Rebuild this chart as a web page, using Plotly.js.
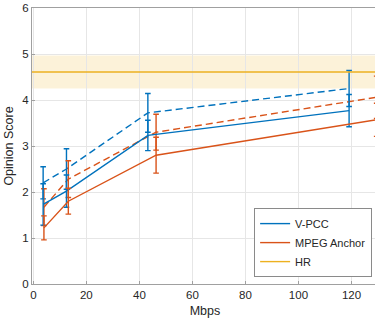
<!DOCTYPE html>
<html>
<head>
<meta charset="utf-8">
<script src="https://cdn.plot.ly/plotly-3.0.1.min.js"></script>
<style>
html,body{margin:0;padding:0;overflow:hidden;background:#fff;}
#chart{width:378px;height:320px;}
</style>
</head>
<body>
<div id="chart"></div>
<script>
// Data
const vpccX = [3.7, 12.5, 43.2, 119.1];
const vpccSolid = [1.73, 2.02, 3.23, 3.77];
const vpccSolidErr = [0.45, 0.35, 0.33, 0.35];
const vpccDashed = [2.20, 2.50, 3.72, 4.25];
const vpccDashedErr = [0.35, 0.44, 0.42, 0.39];

const mpegX = [4.0, 13.2, 46.3, 129.5];
const mpegSolid = [1.22, 1.80, 2.80, 3.57];
const mpegSolidErr = [0.26, 0.28, 0.39, 0.36];
const mpegDashed = [1.67, 2.28, 3.30, 4.06];
const mpegDashedErr = [0.40, 0.40, 0.39, 0.46];

const hrValue = 4.61;
const hrLow = 4.25;
const hrHigh = 4.97;

const xRange = [-0.5, 130];
const yRange = [0, 6];
const xTicks = [0, 20, 40, 60, 80, 100, 120];
const yTicks = [0, 1, 2, 3, 4, 5, 6];

const BLUE = '#0072BD';
const ORANGE = '#D95319';
const YELLOW = '#EDB120';

function errBar(arr, color) {
  return {type: 'data', array: arr, visible: true, color: color, thickness: 1.4, width: 2.8};
}

const traces = [
  {x: vpccX, y: vpccDashed, mode: 'lines', line: {color: BLUE, width: 1.4, dash: '7px,4px'},
   error_y: errBar(vpccDashedErr, BLUE), showlegend: false, hoverinfo: 'skip'},
  {x: mpegX, y: mpegDashed, mode: 'lines', line: {color: ORANGE, width: 1.4, dash: '7px,4px'},
   error_y: errBar(mpegDashedErr, ORANGE), showlegend: false, hoverinfo: 'skip'},
  {x: vpccX, y: vpccSolid, mode: 'lines', name: 'V-PCC', line: {color: BLUE, width: 1.4},
   error_y: errBar(vpccSolidErr, BLUE)},
  {x: mpegX, y: mpegSolid, mode: 'lines', name: 'MPEG Anchor', line: {color: ORANGE, width: 1.4},
   error_y: errBar(mpegSolidErr, ORANGE)},
  {x: xRange, y: [hrValue, hrValue], mode: 'lines', name: 'HR', line: {color: YELLOW, width: 1.4}}
];

const FONT = 'Liberation Sans, Arial, sans-serif';
const layout = {
  width: 378, height: 320,
  margin: {l: 32, r: 0, t: 8, b: 36},
  paper_bgcolor: '#fff', plot_bgcolor: '#fff',
  font: {family: FONT, size: 11.5, color: '#262626'},
  showlegend: true,
  legend: {
    x: 0.983, y: 0.025, xanchor: 'right', yanchor: 'bottom',
    bgcolor: '#fff', bordercolor: '#8a8a8a', borderwidth: 1,
    font: {family: FONT, size: 11, color: '#262626'},
    tracegroupgap: 0, itemwidth: 30
  },
  xaxis: {
    range: xRange, tickvals: xTicks, ticktext: xTicks.map(String),
    showgrid: true, gridcolor: '#e6e6e6', gridwidth: 1,
    zeroline: false, showline: true, linecolor: '#a0a0a0', linewidth: 1, mirror: true,
    ticks: 'inside', ticklen: 3, tickcolor: '#a0a0a0',
    tickfont: {size: 11.5, color: '#262626'},
    title: {text: 'Mbps', font: {size: 12.5, color: '#262626'}, standoff: 6}
  },
  yaxis: {
    range: yRange, tickvals: yTicks, ticktext: yTicks.map(String),
    showgrid: true, gridcolor: '#e6e6e6', gridwidth: 1,
    zeroline: false, showline: true, linecolor: '#a0a0a0', linewidth: 1, mirror: true,
    ticks: 'inside', ticklen: 3, tickcolor: '#a0a0a0',
    tickfont: {size: 11.5, color: '#262626'},
    title: {text: 'Opinion Score', font: {size: 12.5, color: '#262626'}, standoff: 5}
  },
  shapes: [
    {type: 'rect', xref: 'paper', x0: 0, x1: 1, yref: 'y', y0: hrLow, y1: hrHigh,
     fillcolor: 'rgba(237,177,32,0.17)', line: {width: 0}, layer: 'below'}
  ]
};

Plotly.newPlot('chart', traces, layout, {displayModeBar: false, staticPlot: true});
</script>
</body>
</html>
